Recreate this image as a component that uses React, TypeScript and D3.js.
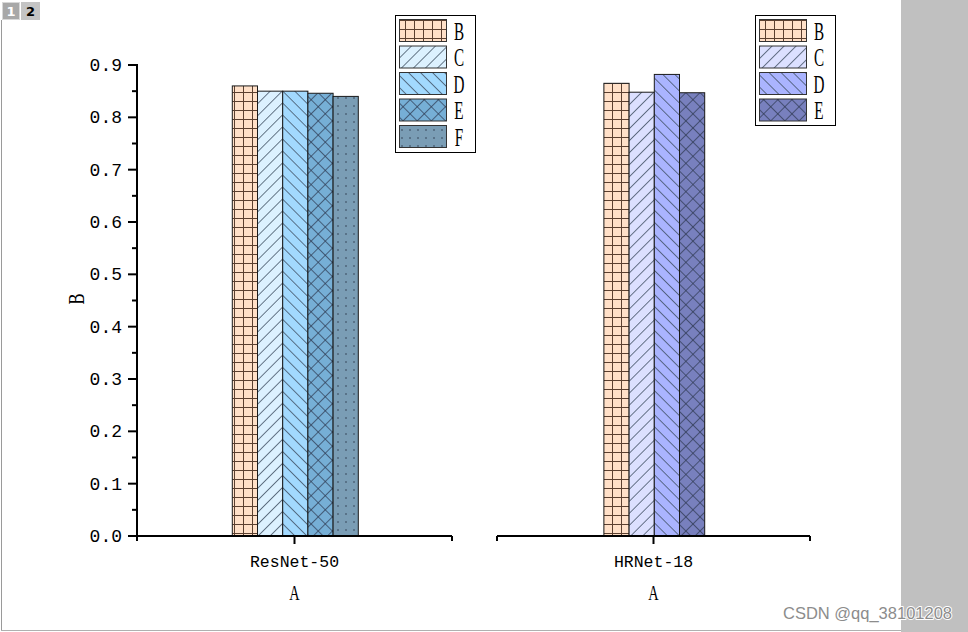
import React from "react";
import * as d3 from "d3";

const groups = ["ResNet-50", "HRNet-18"];
const leftSeries = ["B", "C", "D", "E", "F"];
const leftValues = [0.86, 0.85, 0.85, 0.846, 0.84];
const rightSeries = ["B", "C", "D", "E"];
const rightValues = [0.865, 0.848, 0.882, 0.847];
const yTicks = [0, 0.1, 0.2, 0.3, 0.4, 0.5, 0.6, 0.7, 0.8, 0.9];
const yMinorTicks = [0.05, 0.15, 0.25, 0.35, 0.45, 0.55, 0.65, 0.75, 0.85];
const xAxisTitle = "A";
const yAxisTitle = "B";

type Style = { fill: string; pattern: string };
const leftStyles: Style[] = [
  { fill: "#FFE0C8", pattern: "grid" },
  { fill: "#DCF1FF", pattern: "fwd" },
  { fill: "#A2D9FE", pattern: "back" },
  { fill: "#76AFD6", pattern: "cross" },
  { fill: "#7A9DB5", pattern: "dots" },
];
const rightStyles: Style[] = [
  { fill: "#FFE0C8", pattern: "grid" },
  { fill: "#DCE0FF", pattern: "fwd" },
  { fill: "#AAB4FF", pattern: "back" },
  { fill: "#7880BE", pattern: "cross" },
];

const W = 968;
const H = 632;
const yScale = d3.scaleLinear().domain([0, 0.9]).range([536, 65]);
const serif = "'Liberation Serif', 'DejaVu Serif', serif";
const mono = "'Liberation Mono', 'DejaVu Sans Mono', monospace";

function Patterns({ id, s }: { id: string; s: Style }) {
  const pid = `${id}`;
  if (s.pattern === "grid") {
    return (
      <pattern id={pid} width={9} height={9} patternUnits="userSpaceOnUse" x={0} y={2}>
        <rect width={9} height={9} fill={s.fill} />
        <path d="M0,0.5H9M0.5,0V9" stroke="#5b4030" strokeWidth={1} />
      </pattern>
    );
  }
  if (s.pattern === "fwd" || s.pattern === "back") {
    return (
      <pattern id={pid} width={8.5} height={8.5} patternUnits="userSpaceOnUse"
        patternTransform={`rotate(${s.pattern === "fwd" ? -45 : 45})`}>
        <rect width={8.5} height={8.5} fill={s.fill} />
        <path d="M0,0.4H8.5" stroke="#3a4a5e" strokeWidth={0.8} />
      </pattern>
    );
  }
  if (s.pattern === "cross") {
    return (
      <pattern id={pid} width={10} height={10} patternUnits="userSpaceOnUse" patternTransform="rotate(45)">
        <rect width={10} height={10} fill={s.fill} />
        <path d="M0,0.4H10M0.4,0V10" stroke="#2e3a52" strokeWidth={0.8} />
      </pattern>
    );
  }
  return (
    <pattern id={pid} width={8} height={8} patternUnits="userSpaceOnUse">
      <rect width={8} height={8} fill={s.fill} />
      <circle cx={2} cy={2} r={0.8} fill="#2e3e50" />
    </pattern>
  );
}

function Panel({
  x0, x1, label, series, values, prefix, showY,
}: {
  x0: number; x1: number; label: string; series: string[]; values: number[];
  prefix: string; showY: boolean;
}) {
  const px = d3.scaleLinear().domain([0, 1]).range([x0, x1]);
  const cx = px(0.5) + 0.8;
  const bw = 25.2;
  const band = d3.scaleBand<string>().domain(series)
    .range([cx - (series.length * bw) / 2, cx + (series.length * bw) / 2]).padding(0);
  const y0 = yScale(0);
  return (
    <g>
      {series.map((k, i) => (
        <rect key={k} x={band(k)!} y={yScale(values[i])} width={band.bandwidth()}
          height={y0 - yScale(values[i])} fill={`url(#${prefix}${i})`} stroke="#1a1a1a" strokeWidth={1} />
      ))}
      <line x1={x0} x2={x1} y1={y0} y2={y0} stroke="#000" strokeWidth={2} />
      <line x1={x0} x2={x0} y1={y0} y2={y0 + 5} stroke="#000" strokeWidth={2} />
      <line x1={x1} x2={x1} y1={y0} y2={y0 + 5} stroke="#000" strokeWidth={2} />
      <line x1={px(0.5)} x2={px(0.5)} y1={y0} y2={y0 + 8} stroke="#000" strokeWidth={2} />
      <text x={px(0.5)} y={567} textAnchor="middle" fontFamily={mono} fontSize={16.5} fill="#000">{label}</text>
      <text transform={`translate(${px(0.5)},600) scale(0.72,1)`} textAnchor="middle"
        fontFamily={serif} fontSize={20} fill="#000">{xAxisTitle}</text>
      {showY && (
        <g>
          <line x1={x0} x2={x0} y1={y0 + 1} y2={yScale(0.9) - 1} stroke="#000" strokeWidth={2} />
          {yTicks.map((t) => (
            <g key={t}>
              <line x1={x0 - 9} x2={x0} y1={yScale(t)} y2={yScale(t)} stroke="#000" strokeWidth={2} />
              <text x={122} y={yScale(t) + 6} textAnchor="end" fontFamily={mono} fontSize={18} fill="#000">
                {t.toFixed(1)}
              </text>
            </g>
          ))}
          {yMinorTicks.map((t) => (
            <line key={t} x1={x0 - 5} x2={x0} y1={yScale(t)} y2={yScale(t)} stroke="#000" strokeWidth={2} />
          ))}
          <text transform={`translate(84,299) rotate(-90) scale(0.72,1)`} textAnchor="middle"
            fontFamily={serif} fontSize={23} fill="#000">{yAxisTitle}</text>
        </g>
      )}
    </g>
  );
}

function Legend({ x, y, w, h, series, prefix }: { x: number; y: number; w: number; h: number; series: string[]; prefix: string }) {
  return (
    <g>
      <rect x={x + 0.5} y={y + 0.5} width={w} height={h} fill="#fff" stroke="#000" strokeWidth={1} />
      {series.map((k, i) => (
        <g key={k}>
          <rect x={x + 4.5} y={y + 4.5 + i * 26.5} width={47} height={22} fill={`url(#${prefix}${i})`}
            stroke="#333" strokeWidth={1} />
          <text transform={`translate(${x + 64},${y + 24.5 + i * 26.5}) scale(0.66,1.12)`} textAnchor="middle"
            fontFamily={serif} fontSize={23} fill="#000">{k}</text>
        </g>
      ))}
    </g>
  );
}

export default function App() {
  return (
    <svg width={W} height={H} style={{ position: "absolute", left: 0, top: 0, background: "#fff" }}>
      <defs>
        {leftStyles.map((s, i) => <Patterns key={"l" + i} id={`pl${i}`} s={s} />)}
        {rightStyles.map((s, i) => <Patterns key={"r" + i} id={`pr${i}`} s={s} />)}
      </defs>
      <rect x={0} y={0} width={W} height={H} fill="#fff" />
      <rect x={901} y={0} width={67} height={H} fill="#c0c0c0" />
      <line x1={1.5} x2={1.5} y1={20} y2={631} stroke="#9a9a9a" strokeWidth={1} />
      <line x1={1} x2={901} y1={630.5} y2={630.5} stroke="#b0b0b0" strokeWidth={1} />
      <rect x={2.5} y={2.5} width={17} height={17} fill="#a8a8a8" stroke="#d8d8d8" strokeWidth={1} />
      <text x={11} y={16} textAnchor="middle" fontFamily="'DejaVu Sans', sans-serif" fontWeight="bold" fontSize={13} fill="#fff">1</text>
      <rect x={21} y={2} width={19} height={18} fill="#c4c4c4" />
      <text x={30.5} y={16} textAnchor="middle" fontFamily="'DejaVu Sans', sans-serif" fontWeight="bold" fontSize={13} fill="#000">2</text>

      <Panel x0={137} x1={452} label={groups[0]} series={leftSeries} values={leftValues}
        prefix="pl" showY={true} />
      <Panel x0={497} x1={810} label={groups[1]} series={rightSeries} values={rightValues}
        prefix="pr" showY={false} />

      <Legend x={395} y={15} w={80} h={137} series={leftSeries} prefix="pl" />
      <Legend x={755} y={15} w={80} h={110} series={rightSeries} prefix="pr" />

      <text x={783} y={619} fontFamily="'Liberation Sans', Arial, sans-serif" fontSize={16.5}
        fill="#8c8c8c" stroke="#ffffff" strokeWidth={2} paintOrder="stroke"
        strokeLinejoin="round">CSDN @qq_38101208</text>
    </svg>
  );
}
